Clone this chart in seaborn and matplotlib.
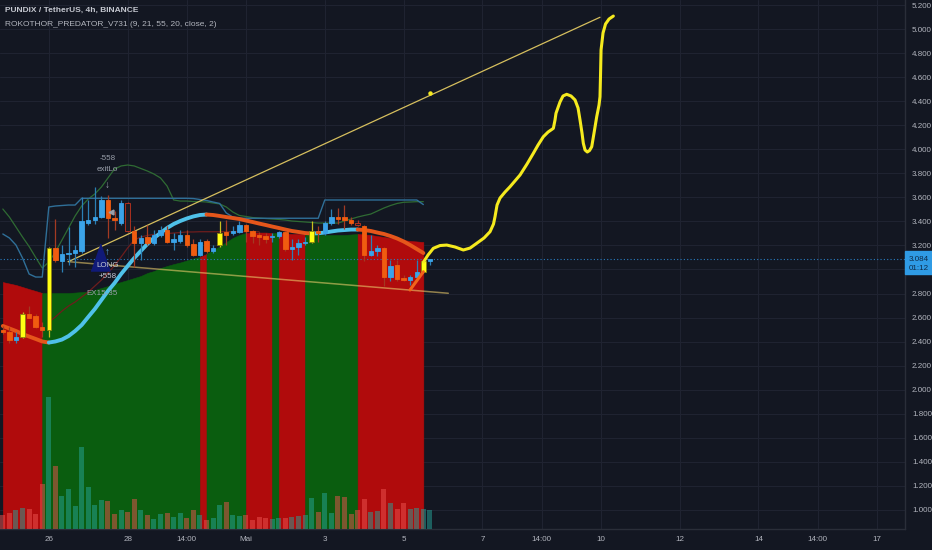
import numpy as np
import pandas as pd
import matplotlib
matplotlib.use("Agg")
import matplotlib.pyplot as plt
import matplotlib.transforms as mtransforms
from matplotlib.patches import Rectangle
from matplotlib.ticker import FuncFormatter
import seaborn as sns

# ---- data: PUNDIX/USDT 4h bars, bar 1 = first bar on the left ----
bars = list(range(1, 67))
opens = [2.50, 2.48, 2.41, 2.44, 2.63, 2.61, 2.52, 2.50, 3.18, 3.07, 3.13, 3.14, 3.15, 3.39, 3.41, 3.44, 3.58,
         3.43, 3.39, 3.55, 3.32, 3.22, 3.27, 3.22, 3.29, 3.33, 3.23, 3.24, 3.29, 3.21, 3.12, 3.24, 3.15, 3.20,
         3.31, 3.30, 3.31, 3.37, 3.32, 3.29, 3.28, 3.27, 3.28, 3.31, 3.17, 3.19, 3.22, 3.23, 3.32, 3.30, 3.39,
         3.44, 3.44, 3.41, 3.39, 3.36, 3.12, 3.15, 3.18, 2.94, 3.04, 2.93, 2.91, 2.94, 2.98, 3.07]
highs = [2.53, 2.52, 2.48, 2.65, 2.70, 2.63, 2.56, 3.19, 3.42, 3.20, 3.35, 3.20, 3.60, 3.58, 3.69, 3.61, 3.62,
         3.49, 3.58, 3.56, 3.36, 3.29, 3.37, 3.33, 3.36, 3.36, 3.30, 3.33, 3.33, 3.25, 3.25, 3.25, 3.20, 3.40,
         3.41, 3.36, 3.40, 3.38, 3.33, 3.31, 3.30, 3.30, 3.32, 3.32, 3.25, 3.25, 3.27, 3.40, 3.36, 3.40, 3.50,
         3.51, 3.54, 3.44, 3.41, 3.37, 3.29, 3.20, 3.19, 3.08, 3.08, 2.95, 2.95, 3.08, 3.08, 3.09]
lows = [2.46, 2.39, 2.39, 2.43, 2.60, 2.51, 2.44, 2.44, 3.06, 2.98, 3.04, 3.02, 3.14, 3.37, 3.38, 3.43, 3.26,
        3.33, 3.37, 3.31, 3.02, 3.08, 3.20, 3.20, 3.27, 3.22, 3.16, 3.22, 3.19, 3.11, 3.11, 3.14, 3.14, 3.19,
        3.20, 3.29, 3.30, 3.23, 3.22, 3.20, 3.22, 3.23, 3.26, 3.15, 3.08, 3.12, 3.20, 3.22, 3.23, 3.29, 3.37,
        3.38, 3.34, 3.37, 3.36, 3.07, 3.11, 3.11, 2.86, 2.90, 2.90, 2.90, 2.87, 2.93, 2.97, 3.04]
closes = [2.48, 2.41, 2.44, 2.63, 2.60, 2.52, 2.50, 3.18, 3.08, 3.13, 3.14, 3.16, 3.40, 3.41, 3.44, 3.58, 3.43,
          3.41, 3.55, 3.32, 3.22, 3.26, 3.22, 3.29, 3.33, 3.23, 3.25, 3.29, 3.20, 3.12, 3.23, 3.15, 3.18, 3.30,
          3.29, 3.32, 3.37, 3.32, 3.28, 3.27, 3.25, 3.28, 3.31, 3.17, 3.19, 3.22, 3.23, 3.32, 3.30, 3.39, 3.44,
          3.42, 3.41, 3.39, 3.37, 3.12, 3.15, 3.18, 2.94, 3.03, 2.92, 2.91, 2.94, 2.98, 3.07, 3.084]
# volume, relative units (scaled to the pane height)
volumes = [14.3, 16.3, 19, 21, 20.3, 15.3, 45.3, 132, 62.7, 33.3, 40, 23.3, 81.7, 42.3, 24, 29.3, 28.3, 15.3,
           19.3, 16.7, 30.3, 19.3, 13.7, 10, 15.3, 15.7, 12.3, 16, 11.3, 18.7, 14.3, 9.3, 11.3, 24, 26.7, 13.7,
           12.7, 14.3, 9.3, 12, 11, 10.3, 11.3, 11.3, 12.3, 13, 13.7, 31.3, 16.7, 36.3, 16, 32.7, 31.7, 15.3,
           18.7, 30, 17.3, 18.3, 40.3, 25.7, 20.3, 26.3, 20.3, 21.3, 20.3, 19]
yellow_bars = [4, 8, 34, 48, 65]
hollow_bars = [20, 55]

# indicator values for bars 1..65
cloud_top = [2.895, 2.883, 2.871, 2.854, 2.837, 2.821, 2.804, 2.804, 2.804, 2.804, 2.804, 2.808, 2.812, 2.817,
             2.829, 2.846, 2.862, 2.879, 2.896, 2.912, 2.929, 2.946, 2.971, 2.987, 3.012, 3.029, 3.045, 3.058,
             3.075, 3.091, 3.104, 3.129, 3.162, 3.191, 3.228, 3.262, 3.287, 3.303, 3.307, 3.307, 3.307, 3.303,
             3.303, 3.299, 3.295, 3.295, 3.291, 3.287, 3.287, 3.287, 3.287, 3.287, 3.287, 3.291, 3.295, 3.291,
             3.287, 3.278, 3.270, 3.262, 3.253, 3.245, 3.237, 3.233, 3.228]
band_edges = [1, 7, 31, 32, 38, 42, 43, 47, 55, 65]
band_trend = ["bear", "bull", "bear", "bull", "bear", "bull", "bear", "bull", "bear"]

trend_ma = [2.530, 2.509, 2.488, 2.463, 2.442, 2.422, 2.401, 2.392, 2.401, 2.417, 2.446, 2.488, 2.538, 2.605,
            2.671, 2.746, 2.821, 2.887, 2.962, 3.029, 3.095, 3.154, 3.212, 3.262, 3.303, 3.345, 3.378, 3.403,
            3.424, 3.441, 3.453, 3.457, 3.453, 3.445, 3.436, 3.428, 3.420, 3.407, 3.395, 3.382, 3.370, 3.357,
            3.345, 3.332, 3.320, 3.312, 3.303, 3.299, 3.301, 3.307, 3.316, 3.324, 3.328, 3.332, 3.332, 3.328,
            3.320, 3.307, 3.295, 3.278, 3.258, 3.233, 3.203, 3.170, 3.137]
upper_band = [3.295, 3.262, 3.203, 3.095, 2.962, 2.937, 2.937, 3.520, 3.528, 3.532, 3.536, 3.536] + [3.592] * 17 + \
             [3.590, 3.582, 3.574, 3.561, 3.549, 3.470, 3.436] + [3.426] * 13 + [3.578] * 15 + [3.540]
green_band = [3.503, 3.436, 3.353, 3.270, 3.191, 3.100, 3.012, 3.062, 3.145, 3.245, 3.345, 3.445, 3.528, 3.586,
              3.628, 3.686, 3.761, 3.836, 3.861, 3.869, 3.861, 3.840, 3.819, 3.794, 3.761, 3.694, 3.578, 3.569,
              3.569, 3.565, 3.565, 3.561, 3.553, 3.545, 3.520, 3.478, 3.449, 3.441, 3.432, 3.428, 3.424, 3.420,
              3.416, 3.411, 3.403, 3.399, 3.395, 3.391, 3.386, 3.386, 3.386, 3.386, 3.403, 3.420, 3.436, 3.449,
              3.461, 3.486, 3.511, 3.532, 3.549, 3.559, 3.561, 3.564, 3.564]
slow_ma_bars = list(range(8, 41))
slow_ma = [2.563, 2.605, 2.654, 2.696, 2.729, 2.771, 2.812, 2.862, 2.912, 2.971, 3.033, 3.104, 3.179, 3.245,
           3.270, 3.283, 3.291, 3.295, 3.299, 3.303, 3.307, 3.312, 3.312] + [3.314] * 10

# drawings: trend lines and the hand-drawn projection (bar index, price)
rise_line_x, rise_line_y = [10.96, 91.89], [3.065, 5.098]
fall_line_x, fall_line_y = [10.96, 68.80], [3.065, 2.802]
short_line_x, short_line_y = [62.97, 65.00], [2.829, 2.981]
dot_x, dot_y = [66.02], [4.468]
proj_x = [65.03, 65.71, 66.52, 67.54, 68.56, 69.82, 71.09, 72.11, 73.13, 74.24, 75.15, 75.68, 75.91, 76.22,
          76.67, 77.43, 78.19, 79.72, 80.78, 81.74, 82.46, 83.26, 83.98, 84.79, 85.04, 85.19, 85.80, 86.26,
          86.82, 87.48, 88.09, 88.55, 88.85, 89.15, 89.35, 89.61, 89.96, 90.30, 90.63, 90.98, 91.39, 91.74,
          91.89, 91.97, 92.05, 92.35, 92.73, 93.26, 93.92]
proj_y = [3.062, 3.120, 3.176, 3.199, 3.203, 3.187, 3.162, 3.178, 3.218, 3.262, 3.314, 3.378, 3.439, 3.536,
          3.594, 3.644, 3.688, 3.786, 3.877, 3.966, 4.035, 4.104, 4.143, 4.174, 4.243, 4.299, 4.393, 4.443,
          4.457, 4.443, 4.410, 4.343, 4.243, 4.135, 4.050, 3.994, 3.977, 3.990, 4.021, 4.135, 4.271, 4.368,
          4.437, 4.618, 4.826, 4.967, 5.042, 5.083, 5.108]

tick_bars = [8, 20, 29, 38, 50, 62, 74, 83, 92, 104, 116, 125, 134]
tick_labels = ["26", "28", "14:00", "Mai", "3", "5", "7", "14:00", "10", "12", "14", "14:00", "17"]
price_ticks = np.round(np.arange(1.0, 5.201, 0.2), 1)

BG = "#131722"
TXT = "#b2b5be"
sns.set_theme(style="dark", rc={"axes.facecolor": BG, "figure.facecolor": BG, "savefig.facecolor": BG})
plt.rcParams["font.family"] = ["Liberation Sans Narrow", "Liberation Sans", "DejaVu Sans"]

fig = plt.figure(figsize=(9.32, 5.5), dpi=100)
rect = [0, 21 / 550, 905 / 932, 529 / 550]
ax_bg = fig.add_axes(rect)
ax_vol = fig.add_axes(rect, sharex=ax_bg)
ax = fig.add_axes(rect, sharex=ax_bg, sharey=ax_bg)
for a in (ax_vol, ax):
    a.patch.set_visible(False)

# background trend cloud
fill_col = {"bull": "#0a5d0f", "bear": "#b00b0c"}
for i, tr in enumerate(band_trend):
    a0, b0 = band_edges[i], band_edges[i + 1]
    ax_bg.fill_between(bars[a0 - 1:b0], cloud_top[a0 - 1:b0], 0.5, color=fill_col[tr],
                       edgecolor=fill_col[tr], linewidth=0.4, zorder=2)

# volume
vdf = pd.DataFrame({"bar": bars, "vol": volumes,
                    "dir": ["up" if c >= o else "down" for o, c in zip(opens, closes)]})
sns.barplot(data=vdf, x="bar", y="vol", hue="dir", palette={"up": "#26a69a", "down": "#ef5350"},
            native_scale=True, width=0.76, alpha=0.5, saturation=1, dodge=False, legend=False,
            errorbar=None, linewidth=0, ax=ax_vol)
ax_vol.set_ylim(0, 529)
ax_vol.axis("off")

# thin bands
sns.lineplot(x=bars[:65], y=green_band, color="#2f6b33", lw=0.9, sort=False, ax=ax)
sns.lineplot(x=bars[:65], y=upper_band, color="#2f6f98", lw=1.0, sort=False, ax=ax)
sns.lineplot(x=slow_ma_bars, y=slow_ma, color="#6e1d1d", lw=0.9, sort=False, ax=ax)

# trend lines
sns.lineplot(x=rise_line_x, y=rise_line_y, color="#d6bf5e", lw=0.9, sort=False, ax=ax)
sns.lineplot(x=fall_line_x, y=fall_line_y, color="#e8c96a", lw=1.1, alpha=0.6, sort=False, ax=ax)

# thick trend MA, cyan when rising / orange when falling
ma = np.array(trend_ma)
rising = np.diff(ma) >= 0
start = 0
for i in range(1, len(rising) + 1):
    if i == len(rising) or rising[i] != rising[start]:
        sns.lineplot(x=bars[start:i + 1], y=ma[start:i + 1], color="#4fc1e9" if rising[start] else "#e5561b",
                     lw=2.8, sort=False, ax=ax, zorder=4)
        start = i

# candles
o, h, l, c = map(np.array, (opens, highs, lows, closes))
up = c >= o
body_col, edge_col, wick_col = [], [], []
for b, u in zip(bars, up):
    if b in yellow_bars:
        body_col.append("#ffff14"); edge_col.append("#8c8210"); wick_col.append("#c9c020")
    elif b in hollow_bars:
        body_col.append("#1c1c24"); edge_col.append("#c2341f"); wick_col.append("#a0302a")
    elif u:
        body_col.append("#3ba3e8"); edge_col.append("#3ba3e8"); wick_col.append("#2b7fb5")
    else:
        body_col.append("#f05c10"); edge_col.append("#f05c10"); wick_col.append("#a33a22")
ax.vlines(bars, l, h, colors=wick_col, lw=0.9, zorder=5)
ax.bar(bars, np.maximum(np.abs(c - o), 0.008), bottom=np.minimum(o, c), width=0.68,
       color=body_col, edgecolor=edge_col, linewidth=0.6, zorder=6)

# hand drawn projection
sns.lineplot(x=short_line_x, y=short_line_y, color="#f0641a", lw=2.2, sort=False, ax=ax, zorder=7)
sns.lineplot(x=proj_x, y=proj_y, color="#f5ea1e", lw=2.2, sort=False, ax=ax, zorder=8)
ax.plot(dot_x, dot_y, "o", color="#f5ea1e", ms=2.2, zorder=8)

# last price line
last = closes[-1]
ax.axhline(last, color="#2a7dc0", lw=0.8, ls=(0, (1, 2)), zorder=3)

# strategy labels
tri = [(-0.7, -1), (0.7, -1), (0, 1)]
ax.plot([15.85], [3.106], marker=tri, ms=19.5, color="#101a78", ls="none", zorder=9)
ax.text(17.0, 3.031, "LONG", color="#c8ccd6", fontsize=5.8, ha="center", va="center", zorder=10)
ax.text(16.95, 2.945, "+558", color="#c8ccd6", fontsize=5.8, ha="center", va="center", zorder=10)
ax.text(16.05, 2.796, "EX15-35", color="#9aa0ab", fontsize=5.8, ha="center", va="center", zorder=10)
ax.text(16.9, 3.145, "\u2191", color="#5eb0ea", fontsize=7, ha="center", va="center", zorder=10)
ax.text(16.95, 3.925, "-558", color="#9aa0ab", fontsize=5.8, ha="center", va="center", zorder=10)
ax.text(16.95, 3.833, "exitLo", color="#9aa0ab", fontsize=5.8, ha="center", va="center", zorder=10)
ax.text(16.95, 3.70, "\u2193", color="#9aa0ab", fontsize=7, ha="center", va="center", zorder=10)
ax.plot([17.4], [3.48], marker="<", ms=3.5, color="#9aa0ab", ls="none", zorder=10)

# axes, grid and ticks
ax_bg.set_xlim(0.569, 138.31)
ax_bg.set_ylim(0.841, 5.2416)
ax_bg.set_xticks(tick_bars)
ax_bg.set_xticklabels(tick_labels)
ax_bg.set_yticks(price_ticks)
# the scale label under the last-price badge is hidden, as on the chart
ax_bg.yaxis.set_major_formatter(FuncFormatter(lambda v, pos: "" if abs(v - last) < 0.1 else f"{v:.3f}"))
ax_bg.yaxis.tick_right()
ax_bg.tick_params(axis="both", colors=TXT, labelsize=5.8, length=0, pad=5)
ax_bg.grid(True, color="#1f2331", lw=0.8)
ax_bg.set_axisbelow(True)
ax_bg.set_xlabel("")
ax_bg.set_ylabel("")
for side in ("top", "left"):
    ax_bg.spines[side].set_visible(False)
for side in ("right", "bottom"):
    ax_bg.spines[side].set_visible(True)
    ax_bg.spines[side].set_color("#2a2e39")
    ax_bg.spines[side].set_linewidth(1)
ax.axis("off")

# last price badge on the scale
blend = mtransforms.blended_transform_factory(ax_bg.transAxes, ax_bg.transData)
ax_bg.add_patch(Rectangle((1.0, last - 0.122), 27 / 905, 0.192, transform=blend, clip_on=False,
                          color="#2f9be5", zorder=6))
ax_bg.text(1.0 + 13.5 / 905, last, "3.084", transform=blend, color="#0e2a47", fontsize=5.8,
           ha="center", va="center", clip_on=False, zorder=7)
ax_bg.text(1.0 + 13.5 / 905, last - 0.075, "01:12", transform=blend, color="#0e2a47", fontsize=5.8,
           ha="center", va="center", clip_on=False, zorder=7)

fig.text(5 / 932, 1 - 10 / 550, "PUNDIX / TetherUS, 4h, BINANCE", color="#c5c8d0", fontsize=6,
         fontweight="bold", va="center")
fig.text(5 / 932, 1 - 24 / 550, "ROKOTHOR_PREDATOR_V731 (9, 21, 55, 20, close, 2)", color=TXT,
         fontsize=6, va="center")

fig.savefig("out.png", dpi=100)
